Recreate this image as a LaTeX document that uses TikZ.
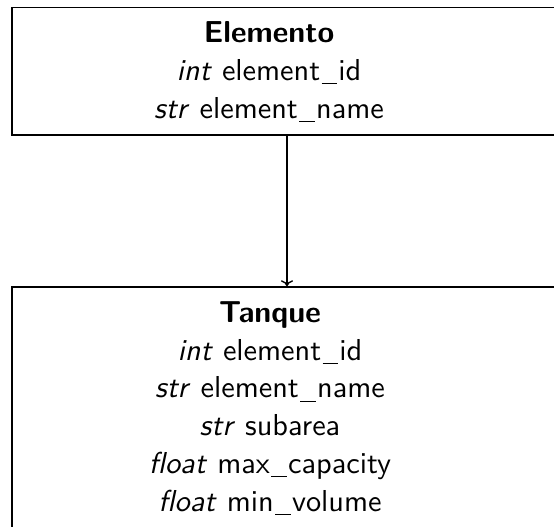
\documentclass[tikz,border=0pt]{standalone}
\usetikzlibrary{fit,arrows.meta}
\renewcommand{\familydefault}{\sfdefault}
% thin underscore drawn as a rule just below the baseline
\newcommand{\usc}{\kern0.04em\rule[-1.3pt]{0.52em}{0.4pt}\kern0.04em}
\begin{document}
\begin{tikzpicture}[x=0.33pt, y=-0.33pt,
  classbox/.style={draw, line width=0.45pt, inner sep=0pt, fit={#1}},
  classtext/.style={anchor=north, inner sep=0pt, align=center,
    font={\fontsize{10}{12.45}\selectfont\sffamily}},
  inherit/.style={-{To[length=2pt,width=4pt]}, line width=0.45pt}]
  \useasboundingbox (0,0) rectangle (554,527);
  \clip (0,0) rectangle (554,527);

  % parent class
  \node[classbox={(12,7.5) (562,135)}] (elemento) {};
  \node[classtext] (elementotext) at (269,21)
    {\textbf{Elemento}\\
     \textit{int} element\usc id\\
     \textit{str} element\usc name};

  % child class
  \node[classbox={(12,287) (562,529)}] (tanque) {};
  \node[classtext] (tanquetext) at (270,301)
    {\textbf{Tanque}\\
     \textit{int} element\usc id\\
     \textit{str} element\usc name\\
     \textit{str} subarea\\
     \textit{float} max\usc capacity\\
     \textit{float} min\usc volume};

  \draw[inherit] (elemento.south) -- (tanque.north);
\end{tikzpicture}
\end{document}
